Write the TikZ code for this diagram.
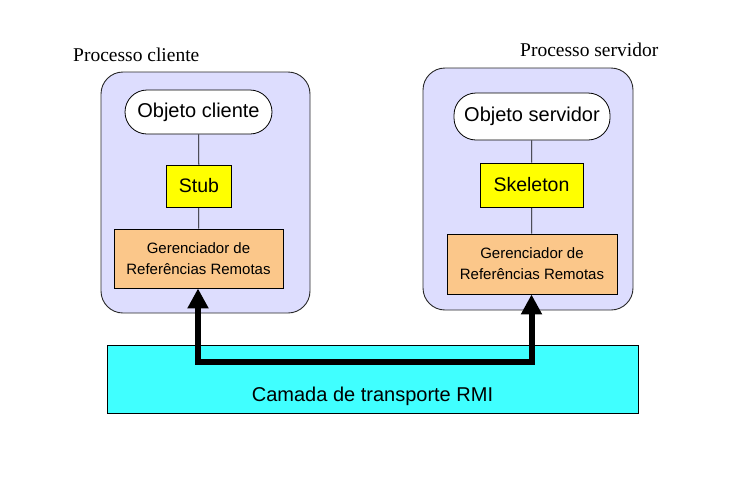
\documentclass[tikz,border=0pt]{standalone}
\usepackage{fontspec}
\setmainfont{Liberation Serif}
\newfontfamily\arialf{Liberation Sans}
\usetikzlibrary{arrows.meta}
\definecolor{lav}{RGB}{221,221,254}
\definecolor{peach}{RGB}{251,199,138}
\definecolor{cyanbox}{RGB}{64,255,255}
\definecolor{yel}{RGB}{255,255,0}
\definecolor{procborder}{RGB}{40,40,40}
\tikzset{
  procbox/.style={draw=procborder, fill=lav, rounded corners=22pt, line width=0.9pt},
  objnode/.style={draw=black, fill=white, rounded corners=22pt, line width=0.8pt, inner sep=0pt, font=\arialf\fontsize{20}{24}\selectfont},
  stubnode/.style={draw=black, fill=yel, line width=0.9pt, inner sep=0pt, font=\arialf\fontsize{19.5}{24}\selectfont},
  gernode/.style={draw=black, fill=peach, line width=0.9pt, inner sep=0pt, align=center, font=\arialf\fontsize{15}{21}\selectfont},
  link/.style={draw=black, line width=0.8pt},
  proclabel/.style={anchor=west, inner sep=0pt, font=\fontsize{19.5}{24}\selectfont},
  rmiarrow/.style={line width=6pt, line join=miter, {Triangle[length=20pt,width=20pt]}-{Triangle[length=20pt,width=20pt]}}
}
\begin{document}
\begin{tikzpicture}[x=1pt,y=-1pt]
\useasboundingbox (0,0) rectangle (748,488);
% transport layer
\node[draw=black, fill=cyanbox, line width=0.9pt, minimum width=531pt, minimum height=68pt, inner sep=0pt] (rmi) at (372.5,379) {};
\node[font=\arialf\fontsize{20}{24}\selectfont, inner sep=0pt] (rmitext) at (372.5,396) {Camada de transporte RMI};
% process boxes
\node[procbox, minimum width=209pt, minimum height=241pt, inner sep=0pt] (pc) at (205.5,192.5) {};
\node[procbox, minimum width=210pt, minimum height=242pt, inner sep=0pt] (ps) at (528,189) {};
\node[proclabel] (lc) at (73,55) {Processo cliente};
\node[proclabel] (ls) at (520,50) {Processo servidor};
% client
\node[objnode, minimum width=147pt, minimum height=44pt] (oc) at (198.5,112) {Objeto cliente};
\node[stubnode, minimum width=65pt, minimum height=42pt] (stub) at (199,186) {Stub};
\node[gernode, minimum width=169pt, minimum height=59pt] (gc) at (198.5,258.5) {Gerenciador de\\Referências Remotas};
% server
\node[objnode, minimum width=156pt, minimum height=47pt] (os) at (532,116.5) {Objeto servidor};
\node[stubnode, minimum width=103pt, minimum height=44pt] (skel) at (531.5,185) {Skeleton};
\node[gernode, minimum width=170pt, minimum height=60pt] (gs) at (532,264) {Gerenciador de\\Referências Remotas};
% links
\draw[link] (oc) -- (stub);
\draw[link] (stub) -- (gc);
\draw[link] (os) -- (skel);
\draw[link] (skel) -- (gs);
% arrow
\coordinate (c1) at (198,361.5);
\coordinate (c2) at (531.5,361.5);
\draw[rmiarrow] (gc.south -| c1) -- (c1) -- (c2) -- (gs.south -| c2);
\end{tikzpicture}
\end{document}
